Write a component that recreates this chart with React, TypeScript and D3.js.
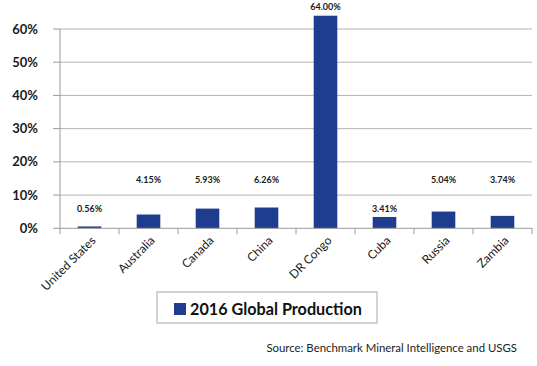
import React from "react";
import * as d3 from "d3";

const categories = ["United States", "Australia", "Canada", "China", "DR Congo", "Cuba", "Russia", "Zambia"];
const production = [0.56, 4.15, 5.93, 6.26, 64.0, 3.41, 5.04, 3.74];
// label anchor level (in % units) as placed in the original chart
const labelLevels = [5.8, 14.5, 14.5, 14.5, 66.6, 5.8, 14.5, 14.5];
const yTicks = [0, 10, 20, 30, 40, 50, 60];
const seriesName = "2016 Global Production";
const sourceText = "Source: Benchmark Mineral Intelligence and USGS";

const W = 537;
const H = 366;
const M = { left: 60, right: 5, top: 29, bottom: 138 };
const FONT = "Lato, 'Open Sans', sans-serif";
const BAR = "#1f3d8f";

export default function App() {
  const x = d3
    .scaleBand<string>()
    .domain(categories)
    .range([M.left, 532])
    .paddingInner(0.6)
    .paddingOuter(0.3);
  const y = d3.scaleLinear().domain([0, 60]).range([228.3, 29]);
  const step = x.step();
  const boundaries = d3.range(categories.length + 1).map((i) => M.left + i * step);

  return (
    <svg
      width={W}
      height={H}
      style={{ position: "absolute", left: 0, top: 0, background: "#fff" }}
      fontFamily={FONT}
    >
      {/* gridlines */}
      {yTicks.map((t) => (
        <g key={t}>
          {t > 0 && (
            <line x1={M.left} x2={532} y1={y(t)} y2={y(t)} stroke="#b4b4b4" strokeWidth={1} />
          )}
          <line x1={53} x2={M.left} y1={y(t)} y2={y(t)} stroke="#9a9a9a" strokeWidth={1} />
          <text
            x={38}
            y={y(t)}
            dy="0.35em"
            textAnchor="end"
            fontSize={13}
            fontWeight="bold"
            fill="#1a1a1a"
          >
            {t}%
          </text>
        </g>
      ))}
      {/* y axis */}
      <line x1={M.left} x2={M.left} y1={y(60)} y2={y(0)} stroke="#9a9a9a" strokeWidth={1} />
      {/* bars */}
      {categories.map((c, i) => (
        <rect
          key={c}
          x={x(c)}
          y={y(production[i])}
          width={x.bandwidth()}
          height={y(0) - y(production[i])}
          fill={BAR}
        />
      ))}
      {/* x axis */}
      <line x1={M.left} x2={532} y1={y(0)} y2={y(0)} stroke="#9a9a9a" strokeWidth={1} />
      {boundaries.map((bx, i) => (
        <line key={i} x1={bx} x2={bx} y1={y(0)} y2={y(0) + 6} stroke="#9a9a9a" strokeWidth={1} />
      ))}
      {/* data labels */}
      {categories.map((c, i) => (
        <text
          key={c}
          x={(x(c) as number) + x.bandwidth() / 2}
          y={y(labelLevels[i])}
          dy="0.35em"
          textAnchor="middle"
          fontSize={9}
          fontWeight="bold"
          fill="#1a1a1a"
        >
          {production[i].toFixed(2)}%
        </text>
      ))}
      {/* category labels */}
      {categories.map((c) => {
        const cx = (x(c) as number) + x.bandwidth() / 2 + 4;
        const cy = y(0) + 10;
        return (
          <text
            key={c}
            transform={`translate(${cx},${cy}) rotate(-45)`}
            textAnchor="end"
            dy="0.35em"
            fontSize={12}
            fill="#1a1a1a"
          >
            {c}
          </text>
        );
      })}
      {/* legend */}
      <rect x={157} y={292} width={220} height={31} fill="#fff" stroke="#a8a8a8" strokeWidth={1} />
      <rect x={174} y={303} width={12} height={12} fill={BAR} />
      <text x={190} y={309} dy="0.35em" fontSize={16.2} fontWeight="bold" fill="#111">
        {seriesName}
      </text>
      {/* source */}
      <text x={517} y={348} dy="0.35em" textAnchor="end" fontSize={11.4} fill="#222">
        {sourceText}
      </text>
    </svg>
  );
}
